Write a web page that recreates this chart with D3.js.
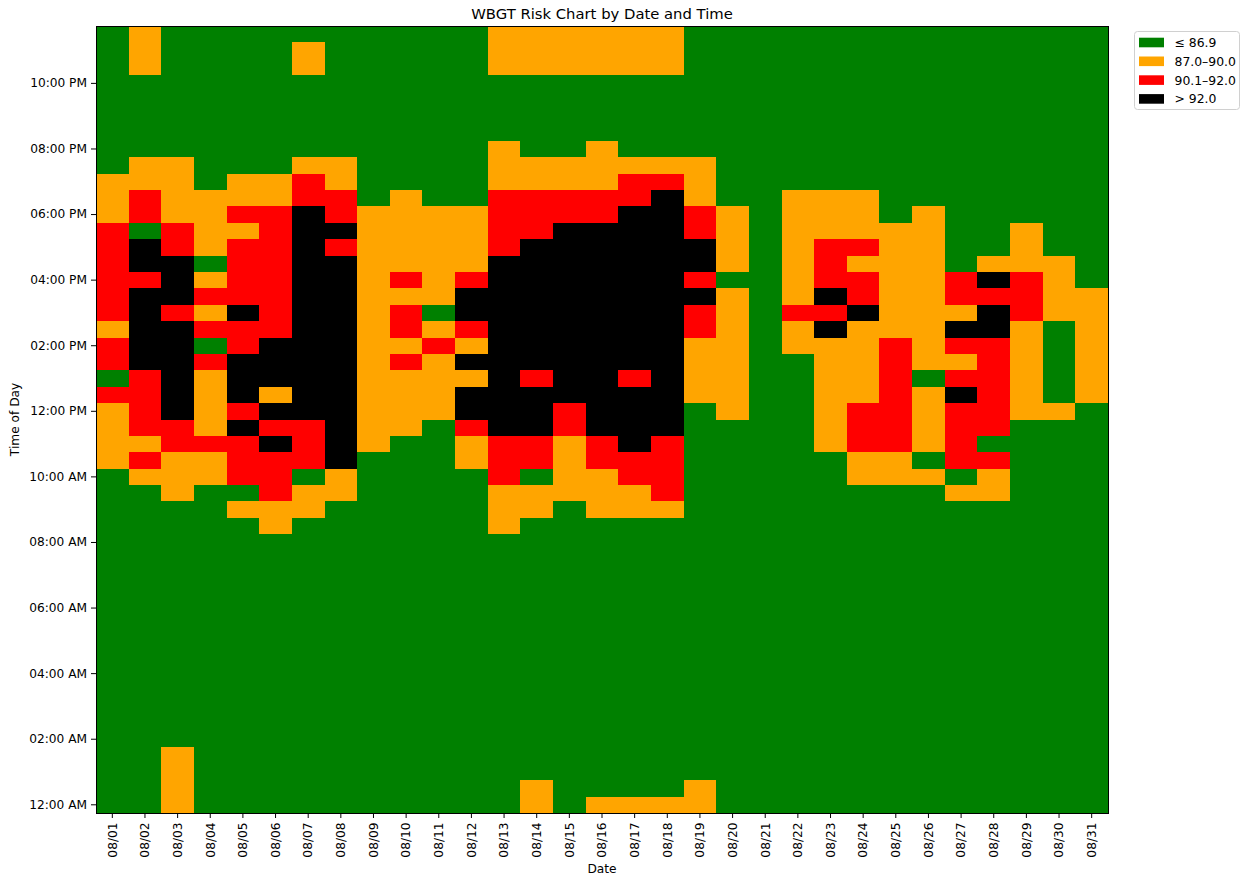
<!DOCTYPE html>
<html>
<head>
<meta charset="utf-8">
<script src="https://cdn.jsdelivr.net/npm/d3@7"></script>
<style>
  body { margin: 0; background: #ffffff; }
  text { font-family: "DejaVu Sans", sans-serif; fill: #000; }
</style>
</head>
<body>
<svg id="chart" width="1243" height="880"></svg>
<script>
// ---------------- data ----------------
const dates = ["08/01","08/02","08/03","08/04","08/05","08/06","08/07","08/08","08/09","08/10",
  "08/11","08/12","08/13","08/14","08/15","08/16","08/17","08/18","08/19","08/20",
  "08/21","08/22","08/23","08/24","08/25","08/26","08/27","08/28","08/29","08/30","08/31"];

const riskLabels = ["\u2264 86.9", "87.0\u201390.0", "90.1\u201392.0", "> 92.0"];
const riskColors = ["#008000", "#ffa500", "#ff0000", "#000000"];

const yTickLabels = ["12:00 AM","02:00 AM","04:00 AM","06:00 AM","08:00 AM","10:00 AM",
  "12:00 PM","02:00 PM","04:00 PM","06:00 PM","08:00 PM","10:00 PM"];

// Risk level for each date, one digit per half-hour slot starting at 12:00 AM
// (0: <=86.9, 1: 87.0-90.0, 2: 90.1-92.0, 3: >92.0).
// Each string = slots 00:00-08:00 (17) + 08:30-20:00 (24) + 20:30-23:30 (7).
const riskByDate = [
  "00000000000000000" + "000011112022122222211100" + "0000000", // 08/01
  "00000000000000000" + "000121222233333233022110" + "0000111", // 08/02
  "11110000000000000" + "001112233333323332211110" + "0000000", // 08/03
  "00000000000000000" + "000112111120212101111000" + "0000000", // 08/04
  "00000000000000000" + "010222323332232222121100" + "0000000", // 08/05
  "00000000000000000" + "112223231333222222221100" + "0000000", // 08/06
  "00000000000000000" + "0110222" + "3333333333333" + "2210" + "0000110", // 08/07
  "00000000000000000" + "0011" + "3333333333333" + "2322110" + "0000000", // 08/08
  "00000000000000000" + "00000" + "111111111111111" + "0000" + "0000000", // 08/09
  "00000000000000000" + "000000111121221211111000" + "0000000", // 08/10
  "00000000000000000" + "000000011112101111110000" + "0000000", // 08/11
  "00000000000000000" + "000011233131233211110000" + "0000000", // 08/12
  "00000000000000000" + "111222" + "33333333333" + "2222111" + "0000111", // 08/13
  "11000000000000000" + "0110223332" + "33333333" + "222110" + "0000111", // 08/14
  "00000000000000000" + "00111122" + "33333333333" + "22110" + "0000111", // 08/15
  "10000000000000000" + "011122" + "3333333333333" + "22111" + "0000111", // 08/16
  "10000000000000000" + "0112233332" + "3333333333" + "2210" + "0000111", // 08/17
  "10000000000000000" + "012222" + "333333333333333" + "210" + "0000111", // 08/18
  "11000000000000000" + "000000001111223233221110" + "0000000", // 08/19
  "00000000000000000" + "0000000" + "11111111" + "0" + "1111" + "0000" + "0000000", // 08/20
  "00000000000000000" + "000000000000000000000000" + "0000000", // 08/21
  "00000000000000000" + "00000000000" + "112" + "1111111" + "000" + "0000000", // 08/22
  "00000000000000000" + "00000" + "1111111" + "323222111000" + "0000000", // 08/23
  "00000000000000000" + "00011222" + "11111" + "32212111000" + "0000000", // 08/24
  "00000000000000000" + "00011" + "2222222" + "1111111" + "00000" + "0000000", // 08/25
  "00000000000000000" + "00010" + "1111" + "0" + "1111111111" + "0000" + "0000000", // 08/26
  "00000000000000000" + "0010" + "2222" + "32123122" + "00000000" + "0000000", // 08/27
  "00000000000000000" + "001120" + "222222" + "33231" + "0000000" + "0000000", // 08/28
  "00000000000000000" + "0000000" + "111111" + "222" + "111" + "00000" + "0000000", // 08/29
  "00000000000000000" + "0000000" + "1" + "00000" + "1111" + "0000000" + "0000000", // 08/30
  "00000000000000000" + "00000000" + "1111111" + "000000000" + "0000000"  // 08/31
];

const slotsPerDay = 48;
const slots = d3.range(slotsPerDay);

// ---------------- layout ----------------
const plot = { left: 96, right: 1108, top: 26, bottom: 813 };

const svg = d3.select("#chart");

const x = d3.scaleBand().domain(dates).range([plot.left, plot.right]).padding(0);
const y = d3.scaleBand().domain(slots).range([plot.bottom, plot.top]).padding(0);

// cells
const cells = [];
dates.forEach((d, di) => {
  const s = riskByDate[di];
  slots.forEach(i => cells.push({ date: d, slot: i, level: +s.charAt(i) || 0 }));
});

svg.append("g")
  .attr("shape-rendering", "crispEdges")
  .selectAll("rect")
  .data(cells)
  .join("rect")
  .attr("x", d => x(d.date))
  .attr("y", d => y(d.slot))
  .attr("width", x.bandwidth())
  .attr("height", y.bandwidth())
  .attr("fill", d => riskColors[d.level]);

// frame
svg.append("rect")
  .attr("x", plot.left).attr("y", plot.top)
  .attr("width", plot.right - plot.left).attr("height", plot.bottom - plot.top)
  .attr("fill", "none").attr("stroke", "#000").attr("stroke-width", 1)
  .attr("shape-rendering", "crispEdges");

// y axis
const yAxis = d3.axisLeft(y)
  .tickValues(d3.range(0, slotsPerDay, 4))
  .tickFormat((v) => yTickLabels[v / 4])
  .tickSize(5).tickPadding(4);
const gy = svg.append("g").attr("transform", `translate(${plot.left},0)`).call(yAxis);
gy.select(".domain").remove();
gy.selectAll("text").attr("font-size", "12.2px").attr("font-family", "DejaVu Sans, sans-serif").attr("fill", "#000");
gy.selectAll("line").attr("stroke", "#000");

// x axis
const xAxis = d3.axisBottom(x).tickSize(5).tickPadding(4);
const gx = svg.append("g").attr("transform", `translate(0,${plot.bottom})`).call(xAxis);
gx.select(".domain").remove();
gx.selectAll("line").attr("stroke", "#000");
gx.selectAll("text")
  .attr("font-size", "12.2px").attr("font-family", "DejaVu Sans, sans-serif").attr("fill", "#000")
  .attr("transform", "rotate(-90)")
  .attr("x", -9.5).attr("y", 0).attr("dy", "0.35em")
  .attr("text-anchor", "end");

// titles
svg.append("text")
  .attr("x", (plot.left + plot.right) / 2).attr("y", 13)
  .attr("text-anchor", "middle").attr("dominant-baseline", "central")
  .attr("font-size", "14.8px")
  .text("WBGT Risk Chart by Date and Time");

svg.append("text")
  .attr("x", (plot.left + plot.right) / 2).attr("y", 869)
  .attr("text-anchor", "middle").attr("dominant-baseline", "central")
  .attr("font-size", "12.2px")
  .text("Date");

svg.append("text")
  .attr("transform", `translate(15,${(plot.top + plot.bottom) / 2}) rotate(-90)`)
  .attr("text-anchor", "middle").attr("dominant-baseline", "central")
  .attr("font-size", "12.2px")
  .text("Time of Day");

// legend
const lg = svg.append("g").attr("transform", "translate(1134.5,31.5)");
lg.append("rect")
  .attr("width", 105).attr("height", 78).attr("rx", 3)
  .attr("fill", "#fff").attr("fill-opacity", 0.8)
  .attr("stroke", "#d0d0d0").attr("stroke-width", 1);
const items = lg.selectAll("g.item").data(riskLabels).join("g")
  .attr("class", "item")
  .attr("transform", (d, i) => `translate(0,${11 + i * 18.8})`);
items.append("rect")
  .attr("x", 4.5).attr("y", -4.8).attr("width", 25).attr("height", 9.6)
  .attr("fill", (d, i) => riskColors[i]);
items.append("text")
  .attr("x", 40).attr("y", 0).attr("dominant-baseline", "central")
  .attr("font-size", "12.4px")
  .text(d => d);
</script>
</body>
</html>
